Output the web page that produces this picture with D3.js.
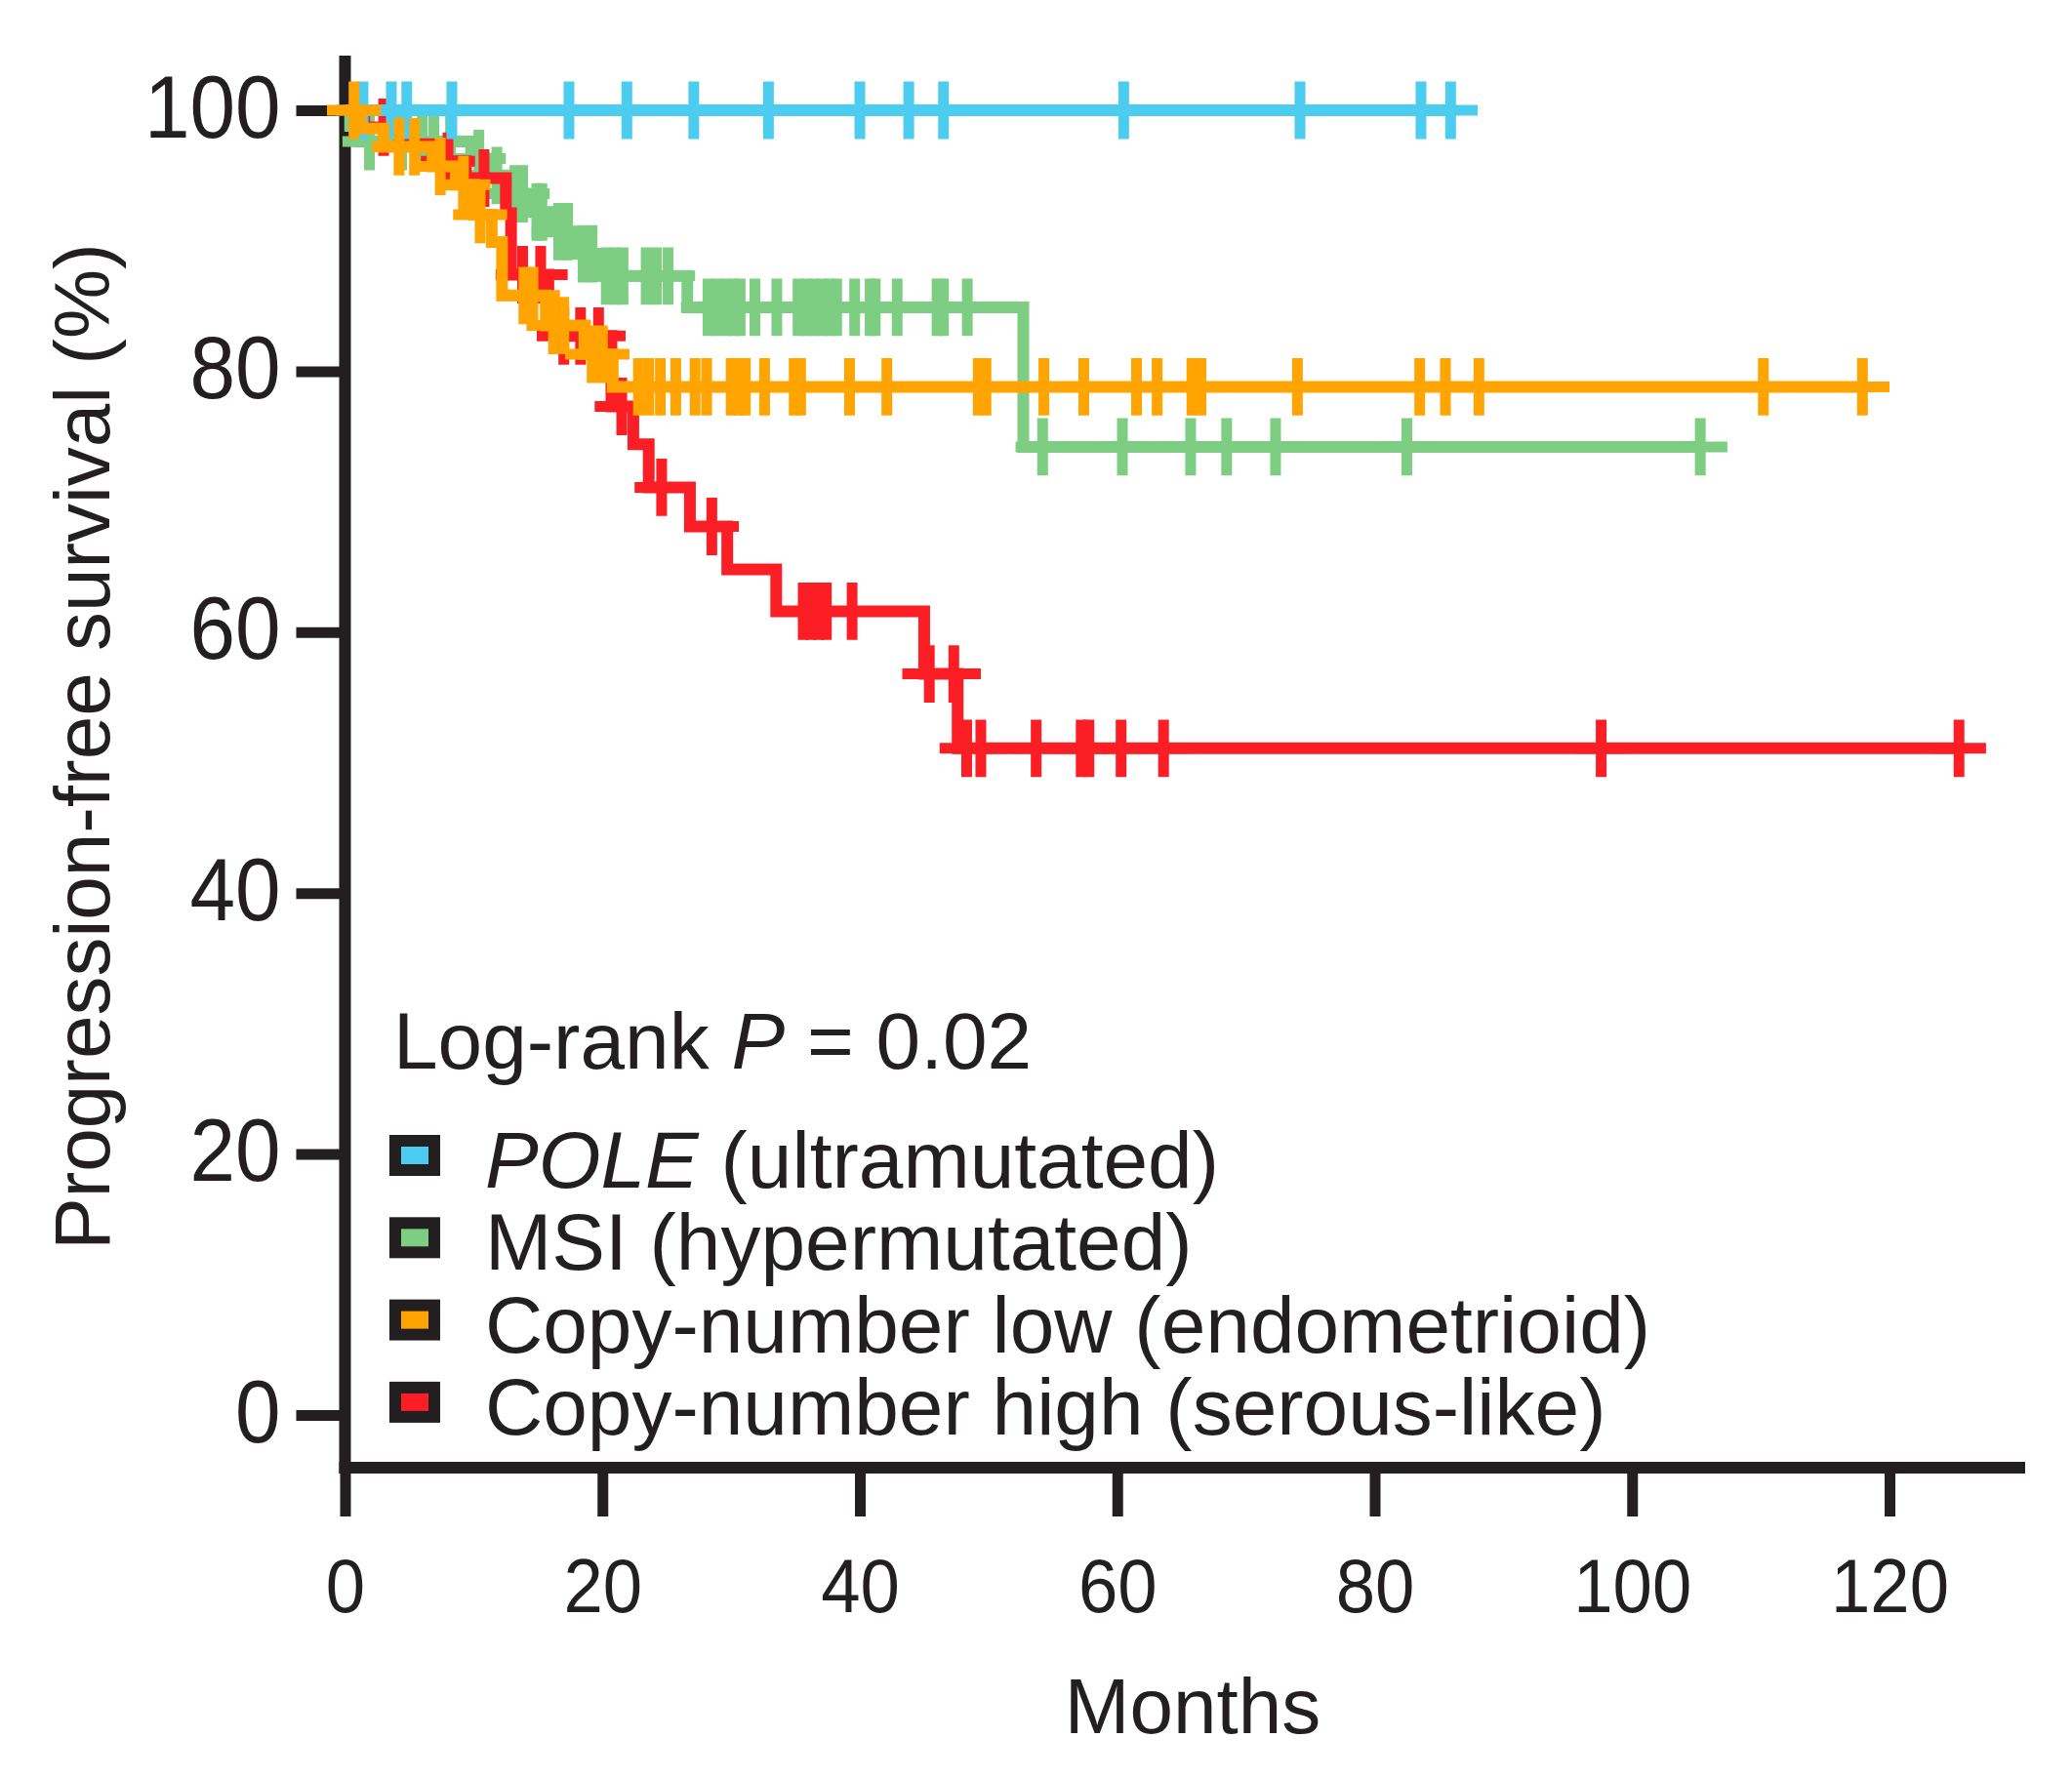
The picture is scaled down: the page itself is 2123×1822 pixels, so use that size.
<!DOCTYPE html>
<html>
<head>
<meta charset="utf-8">
<script src="https://cdn.jsdelivr.net/npm/d3@7"></script>
<style>
  html, body { margin: 0; padding: 0; background: #fff; }
  svg { display: block; }
  text { font-family: "Liberation Sans", Arial, Helvetica, sans-serif; fill: #231f20; }
</style>
</head>
<body>
<div id="chart"></div>
<script>
// --- data (months, % progression-free) ---
const xTicks = [0, 20, 40, 60, 80, 100, 120];
const yTicks = [0, 20, 40, 60, 80, 100];

const groupNames = ["POLE", "MSI", "Copy-number low", "Copy-number high"];
const legendItalic = ["POLE", "", "", ""];
const legendRest = [" (ultramutated)", "MSI (hypermutated)", "Copy-number low (endometrioid)", "Copy-number high (serous-like)"];
const groupColors = ["#4ccdf0", "#7dcd82", "#ffa400", "#fb1e24"];

const poleEventTimes = [];
const poleEventSurv = [];
const poleCensored = [1.4, 3.6, 4.8, 8.3, 17.4, 21.9, 27.1, 32.9, 40.0, 43.8, 46.5, 60.5, 74.2, 83.6, 85.9];

const msiEventTimes = [0.4, 1.0, 9.8, 11.2, 12.6, 14.4, 16.0, 18.0, 19.8, 26.6, 52.7];
const msiEventSurv = [98.8, 97.6, 96.3, 95.0, 93.6, 92.2, 90.7, 89.0, 87.3, 84.9, 74.2];
const msiCensored = [1.9, 4.4, 6.0, 6.9, 8.2, 10.4, 11.8, 13.2, 13.8, 14.9, 15.3, 16.6, 17.3, 18.5, 19.2,
  20.3, 21.0, 21.6, 23.4, 24.2, 25.1, 28.2, 28.9, 29.6, 30.2, 30.7, 31.85, 33.55, 35.2, 35.8, 36.4, 37.0,
  37.6, 38.2, 39.6, 40.8, 41.2, 42.9, 46.0, 46.5, 48.35, 54.2, 60.4, 65.7, 68.5, 72.3, 82.5, 105.3];

const cnlEventTimes = [1.2, 3.0, 6.8, 8.6, 10.0, 11.4, 12.2, 15.6, 18.6, 20.8];
const cnlEventSurv = [98.6, 97.2, 95.7, 94.3, 92.0, 89.9, 85.8, 83.5, 81.3, 78.8];
const cnlCensored = [0.7, 4.2, 5.4, 7.4, 9.2, 10.5, 13.9, 14.6, 16.2, 17.0, 19.2, 20.0, 22.8, 23.6, 24.5,
  25.7, 27.2, 28.1, 30.0, 30.6, 31.1, 32.6, 34.9, 35.4, 39.2, 42.1, 49.2, 49.8, 54.3, 57.4, 61.5, 63.1,
  65.8, 66.5, 74.0, 83.5, 85.5, 88.1, 110.2, 117.9];

const cnhEventTimes = [1.5, 4.2, 6.8, 9.4, 12.5, 12.9, 15.8, 16.3, 20.7, 22.4, 23.6, 26.8, 29.7, 33.5, 45.0, 47.6];
const cnhEventSurv = [98.7, 97.4, 96.1, 94.8, 92.1, 87.4, 85.0, 82.7, 77.3, 74.4, 71.1, 68.1, 64.8, 61.6, 56.8, 51.1];
const cnhCensored = [3.0, 8.0, 10.8, 13.8, 15.2, 17.0, 18.3, 19.7, 21.5, 24.6, 28.5, 35.6, 36.2, 36.8, 37.4,
  39.4, 45.4, 47.3, 48.3, 49.4, 53.7, 57.2, 57.8, 60.3, 63.6, 97.6, 125.4];

// --- build the series table ---
const series = [
  { times: poleEventTimes, surv: poleEventSurv, cens: poleCensored },
  { times: msiEventTimes, surv: msiEventSurv, cens: msiCensored },
  { times: cnlEventTimes, surv: cnlEventSurv, cens: cnlCensored },
  { times: cnhEventTimes, surv: cnhEventSurv, cens: cnhCensored }
].map((d, i) => ({ ...d, name: groupNames[i], color: groupColors[i] }));

const survAt = (s, t) => {
  let v = 100;
  s.times.forEach((et, i) => { if (et <= t) v = s.surv[i]; });
  return v;
};
const stepPoints = s => {
  const end = d3.max(s.cens.concat(s.times));
  const pts = [[0, 100]];
  s.times.forEach((t, i) => pts.push([t, s.surv[i]]));
  pts.push([end, survAt(s, end)]);
  return pts;
};

// --- layout ---
const W = 2123, H = 1822;
const svg = d3.select("#chart").append("svg").attr("width", W).attr("height", H);
svg.append("rect").attr("width", W).attr("height", H).attr("fill", "#fff");

const x = d3.scaleLinear().domain([0, 120]).range([353.5, 1936]);
const y = d3.scaleLinear().domain([0, 100]).range([1450, 113]);
const axisY = 1504;
const ink = "#231f20";
const squeeze = 0.93; // tick labels use a slightly narrower face than Arial

// axes
const gx = svg.append("g").attr("transform", `translate(0,${axisY})`)
  .call(d3.axisBottom(x).tickValues(xTicks).tickSize(50).tickSizeOuter(0));
gx.select(".domain").remove();
gx.selectAll(".tick line").attr("stroke", ink).attr("stroke-width", 11);
gx.selectAll(".tick text").attr("y", 148).attr("dy", null)
  .attr("transform", `scale(${squeeze},1)`)
  .style("font-size", "78px").style("fill", ink);

const gy = svg.append("g").attr("transform", `translate(${x(0)},0)`)
  .call(d3.axisLeft(y).tickValues(yTicks).tickSize(50).tickSizeOuter(0));
gy.select(".domain").remove();
gy.selectAll(".tick line").attr("stroke", ink).attr("stroke-width", 11);
gy.selectAll(".tick text").attr("x", -66 / squeeze).attr("dy", null).attr("y", 27)
  .attr("transform", `scale(${squeeze},1)`)
  .style("font-size", "90px").style("fill", ink);

svg.append("line").attr("x1", x(0)).attr("x2", x(0)).attr("y1", 57).attr("y2", axisY + 6)
  .attr("stroke", ink).attr("stroke-width", 12);
svg.append("line").attr("x1", x(0) - 6).attr("x2", 2075).attr("y1", axisY).attr("y2", axisY)
  .attr("stroke", ink).attr("stroke-width", 12);

// axis titles
svg.append("text").attr("transform", "translate(112,765) rotate(-90)")
  .attr("text-anchor", "middle").style("font-size", "80px")
  .text("Progression-free survival (%)");
svg.append("text").attr("x", 1222).attr("y", 1776)
  .attr("text-anchor", "middle").style("font-size", "80px").text("Months");

// --- curves ---
const line = d3.line().x(d => x(d[0])).y(d => y(d[1])).curve(d3.curveStepAfter);
const armX = x(2.1) - x(0);
const armY = y(0) - y(2.2);
const drawOrder = [1, 3, 0, 2];

drawOrder.forEach(i => {
  const s = series[i];
  const g = svg.append("g");
  g.append("path").datum(stepPoints(s))
    .attr("d", line).attr("fill", "none")
    .attr("stroke", s.color).attr("stroke-width", 12)
    .attr("stroke-linejoin", "miter");
  g.selectAll("path.cens").data(s.cens).enter().append("path")
    .attr("class", "cens")
    .attr("d", t => {
      const cx = x(t), cy = y(survAt(s, t));
      return `M${cx - armX},${cy}H${cx + armX}M${cx},${cy - armY}V${cy + armY}`;
    })
    .attr("fill", "none").attr("stroke", s.color).attr("stroke-width", 11);
});

// --- legend ---
svg.append("text").attr("x", 403).attr("y", 1095).style("font-size", "82px")
  .call(t => {
    t.append("tspan").text("Log-rank ");
    t.append("tspan").style("font-style", "italic").text("P");
    t.append("tspan").text(" = 0.02");
  });

const legendTop = 1184, legendStep = 84.3;
series.forEach((s, i) => {
  const cy = legendTop + i * legendStep;
  svg.append("rect").attr("x", 405).attr("y", cy - 15).attr("width", 40).attr("height", 30)
    .attr("fill", s.color).attr("stroke", ink).attr("stroke-width", 12);
  const t = svg.append("text").attr("x", 497).attr("y", cy + 33).style("font-size", "82px");
  if (legendItalic[i]) t.append("tspan").style("font-style", "italic").text(legendItalic[i]);
  t.append("tspan").text(legendRest[i]);
});
</script>
</body>
</html>
